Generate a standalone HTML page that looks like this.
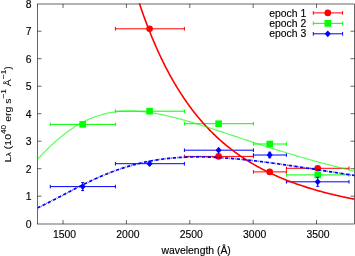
<!DOCTYPE html>
<html><head><meta charset="utf-8"><style>
html,body{margin:0;padding:0;background:#fff;width:355px;height:256px;overflow:hidden;}
svg{display:block;will-change:transform;filter:blur(0.45px);font-family:"Liberation Sans",sans-serif;}
</style></head><body><svg width="355" height="256" viewBox="0 0 355 256"><rect x="37.5" y="4.0" width="317.0" height="220.0" fill="none" stroke="#000" stroke-width="0.6"/><path d="M37.5,196.2 h4 M354.5,196.2 h-4 M37.5,168.7 h4 M354.5,168.7 h-4 M37.5,141.2 h4 M354.5,141.2 h-4 M37.5,113.69999999999999 h4 M354.5,113.69999999999999 h-4 M37.5,86.19999999999999 h4 M354.5,86.19999999999999 h-4 M37.5,58.69999999999999 h4 M354.5,58.69999999999999 h-4 M37.5,31.19999999999999 h4 M354.5,31.19999999999999 h-4 M63.04600000000001,224.0 v-4 M63.04600000000001,4.0 v4 M126.41100000000002,224.0 v-4 M126.41100000000002,4.0 v4 M189.776,224.0 v-4 M189.776,4.0 v4 M253.14100000000002,224.0 v-4 M253.14100000000002,4.0 v4 M316.50600000000003,224.0 v-4 M316.50600000000003,4.0 v4" stroke="#000" stroke-width="0.6" fill="none"/><g font-family="Liberation Sans" font-size="10" fill="#000" stroke="#000" stroke-width="0.14"><text x="30.38" y="227.80" text-anchor="end" transform="scale(1.04,1)">0</text><text x="30.38" y="200.30" text-anchor="end" transform="scale(1.04,1)">1</text><text x="30.38" y="172.80" text-anchor="end" transform="scale(1.04,1)">2</text><text x="30.38" y="145.30" text-anchor="end" transform="scale(1.04,1)">3</text><text x="30.38" y="117.80" text-anchor="end" transform="scale(1.04,1)">4</text><text x="30.38" y="90.30" text-anchor="end" transform="scale(1.04,1)">5</text><text x="30.38" y="62.80" text-anchor="end" transform="scale(1.04,1)">6</text><text x="30.38" y="35.30" text-anchor="end" transform="scale(1.04,1)">7</text><text x="30.38" y="7.80" text-anchor="end" transform="scale(1.04,1)">8</text><text x="62.06" y="238.10" text-anchor="middle" transform="scale(1.04,1)">1500</text><text x="122.99" y="238.10" text-anchor="middle" transform="scale(1.04,1)">2000</text><text x="183.92" y="238.10" text-anchor="middle" transform="scale(1.04,1)">2500</text><text x="244.85" y="238.10" text-anchor="middle" transform="scale(1.04,1)">3000</text><text x="305.78" y="238.10" text-anchor="middle" transform="scale(1.04,1)">3500</text><text x="188.65" y="253.60" text-anchor="middle" transform="scale(1.04,1)">wavelength (Å)</text></g><g font-family="Liberation Sans" font-size="10" fill="#000" stroke="#000" stroke-width="0.08"><text transform="translate(10.9,162.2) rotate(-90) scale(1.045,0.97)" text-anchor="start">L<tspan font-size="8.3" dy="0.4">λ</tspan><tspan dy="-0.4"> (10</tspan><tspan font-size="8" dy="-5.2">40</tspan><tspan dy="5.2"> erg s</tspan><tspan font-size="8" dy="-5.2">−1</tspan><tspan dy="5.2"> Å</tspan><tspan font-size="8" dy="-5.2">−1</tspan><tspan dy="5.2">)</tspan></text></g><path d="M115.4,28.8 H184.4 M115.4,27.0 V30.6 M184.4,27.0 V30.6" stroke="#ff0000" stroke-width="1" fill="none"/><circle cx="149.6" cy="28.8" r="3.3" fill="#ff0000"/><path d="M184.4,156.4 H253.4 M184.4,154.6 V158.20000000000002 M253.4,154.6 V158.20000000000002" stroke="#ff0000" stroke-width="1" fill="none"/><circle cx="218.6" cy="156.4" r="3.3" fill="#ff0000"/><path d="M253.4,171.9 H286.4 M253.4,170.1 V173.70000000000002 M286.4,170.1 V173.70000000000002" stroke="#ff0000" stroke-width="1" fill="none"/><circle cx="269.7" cy="171.9" r="3.3" fill="#ff0000"/><path d="M286.4,168.3 H349.0 M286.4,166.5 V170.10000000000002 M349.0,166.5 V170.10000000000002" stroke="#ff0000" stroke-width="1" fill="none"/><circle cx="317.7" cy="168.3" r="3.3" fill="#ff0000"/><path d="M50.3,124.4 H115.4 M50.3,122.60000000000001 V126.2 M115.4,122.60000000000001 V126.2" stroke="#00ff00" stroke-width="1" fill="none"/><rect x="79.4" y="121.10000000000001" width="6.6" height="6.6" fill="#00ff00"/><path d="M115.4,111.2 H184.4 M115.4,109.4 V113.0 M184.4,109.4 V113.0" stroke="#00ff00" stroke-width="1" fill="none"/><rect x="146.29999999999998" y="107.9" width="6.6" height="6.6" fill="#00ff00"/><path d="M184.4,123.7 H253.4 M184.4,121.9 V125.5 M253.4,121.9 V125.5" stroke="#00ff00" stroke-width="1" fill="none"/><rect x="215.29999999999998" y="120.4" width="6.6" height="6.6" fill="#00ff00"/><path d="M253.4,144.0 H286.4 M253.4,142.2 V145.8 M286.4,142.2 V145.8" stroke="#00ff00" stroke-width="1" fill="none"/><rect x="266.4" y="140.7" width="6.6" height="6.6" fill="#00ff00"/><path d="M286.4,174.9 H349.0 M286.4,173.1 V176.70000000000002 M349.0,173.1 V176.70000000000002" stroke="#00ff00" stroke-width="1" fill="none"/><rect x="314.4" y="171.6" width="6.6" height="6.6" fill="#00ff00"/><path d="M50.3,186.6 H115.4 M50.3,184.79999999999998 V188.4 M115.4,184.79999999999998 V188.4" stroke="#0000ff" stroke-width="1" fill="none"/><path d="M82.7,182.6 V190.6 M81.2,182.6 H84.2 M81.2,190.6 H84.2" stroke="#0000ff" stroke-width="1" fill="none"/><path d="M82.7,183.2 L85.76,186.6 L82.7,190.0 L79.64,186.6 Z" fill="#0000ff"/><path d="M115.4,163.7 H184.4 M115.4,161.89999999999998 V165.5 M184.4,161.89999999999998 V165.5" stroke="#0000ff" stroke-width="1" fill="none"/><path d="M149.6,160.29999999999998 L152.66,163.7 L149.6,167.1 L146.54,163.7 Z" fill="#0000ff"/><path d="M184.4,150.2 H253.4 M184.4,148.39999999999998 V152.0 M253.4,148.39999999999998 V152.0" stroke="#0000ff" stroke-width="1" fill="none"/><path d="M218.6,146.79999999999998 L221.66,150.2 L218.6,153.6 L215.54,150.2 Z" fill="#0000ff"/><path d="M253.4,155.0 H286.4 M253.4,153.2 V156.8 M286.4,153.2 V156.8" stroke="#0000ff" stroke-width="1" fill="none"/><path d="M269.7,152.2 V157.8 M268.2,152.2 H271.2 M268.2,157.8 H271.2" stroke="#0000ff" stroke-width="1" fill="none"/><path d="M269.7,151.6 L272.76,155.0 L269.7,158.4 L266.64,155.0 Z" fill="#0000ff"/><path d="M286.4,181.8 H349.0 M286.4,180.0 V183.60000000000002 M349.0,180.0 V183.60000000000002" stroke="#0000ff" stroke-width="1" fill="none"/><path d="M317.7,177.3 V186.3 M316.2,177.3 H319.2 M316.2,186.3 H319.2" stroke="#0000ff" stroke-width="1" fill="none"/><path d="M317.7,178.4 L320.76,181.8 L317.7,185.20000000000002 L314.64,181.8 Z" fill="#0000ff"/><path d="M139.34,3.25 L140.13,5.61 L140.93,7.93 L141.72,10.22 L142.51,12.49 L143.31,14.72 L144.10,16.92 L144.90,19.10 L145.69,21.24 L146.48,23.36 L147.28,25.45 L148.07,27.52 L148.87,29.55 L149.66,31.56 L150.45,33.55 L151.25,35.51 L152.04,37.44 L152.84,39.35 L153.63,41.24 L154.43,43.10 L155.22,44.94 L156.01,46.75 L156.81,48.54 L157.60,50.31 L158.40,52.06 L159.19,53.78 L159.98,55.49 L160.78,57.17 L161.57,58.83 L162.37,60.47 L163.16,62.09 L163.95,63.69 L164.75,65.28 L165.54,66.84 L166.34,68.38 L167.13,69.90 L167.92,71.41 L168.72,72.89 L169.51,74.36 L170.31,75.81 L171.10,77.25 L171.89,78.66 L172.69,80.06 L173.48,81.45 L174.28,82.81 L175.07,84.16 L175.86,85.49 L176.66,86.81 L177.45,88.11 L178.25,89.40 L179.04,90.67 L179.83,91.93 L180.63,93.17 L181.42,94.40 L182.22,95.61 L183.01,96.81 L183.80,97.99 L184.60,99.17 L185.39,100.32 L186.19,101.47 L186.98,102.60 L187.78,103.72 L188.57,104.82 L189.36,105.91 L190.16,106.99 L190.95,108.06 L191.75,109.12 L192.54,110.16 L193.33,111.19 L194.13,112.21 L194.92,113.22 L195.72,114.22 L196.51,115.20 L197.30,116.18 L198.10,117.14 L198.89,118.10 L199.69,119.04 L200.48,119.97 L201.27,120.89 L202.07,121.81 L202.86,122.71 L203.66,123.60 L204.45,124.48 L205.24,125.35 L206.04,126.22 L206.83,127.07 L207.63,127.91 L208.42,128.75 L209.21,129.57 L210.01,130.39 L210.80,131.20 L211.60,132.00 L212.39,132.79 L213.18,133.57 L213.98,134.35 L214.77,135.11 L215.57,135.87 L216.36,136.62 L217.15,137.36 L217.95,138.09 L218.74,138.82 L219.54,139.54 L220.33,140.25 L221.13,140.95 L221.92,141.65 L222.71,142.34 L223.51,143.02 L224.30,143.69 L225.10,144.36 L225.89,145.02 L226.68,145.67 L227.48,146.32 L228.27,146.96 L229.07,147.59 L229.86,148.22 L230.65,148.84 L231.45,149.46 L232.24,150.06 L233.04,150.67 L233.83,151.26 L234.62,151.85 L235.42,152.43 L236.21,153.01 L237.01,153.58 L237.80,154.15 L238.59,154.71 L239.39,155.26 L240.18,155.81 L240.98,156.36 L241.77,156.90 L242.56,157.43 L243.36,157.96 L244.15,158.48 L244.95,159.00 L245.74,159.51 L246.53,160.02 L247.33,160.52 L248.12,161.02 L248.92,161.51 L249.71,162.00 L250.50,162.48 L251.30,162.96 L252.09,163.43 L252.89,163.90 L253.68,164.36 L254.48,164.82 L255.27,165.28 L256.06,165.73 L256.86,166.18 L257.65,166.62 L258.45,167.06 L259.24,167.49 L260.03,167.92 L260.83,168.35 L261.62,168.77 L262.42,169.19 L263.21,169.60 L264.00,170.01 L264.80,170.41 L265.59,170.82 L266.39,171.22 L267.18,171.61 L267.97,172.00 L268.77,172.39 L269.56,172.77 L270.36,173.15 L271.15,173.53 L271.94,173.90 L272.74,174.27 L273.53,174.64 L274.33,175.00 L275.12,175.36 L275.91,175.72 L276.71,176.07 L277.50,176.42 L278.30,176.76 L279.09,177.11 L279.88,177.45 L280.68,177.79 L281.47,178.12 L282.27,178.45 L283.06,178.78 L283.85,179.10 L284.65,179.43 L285.44,179.74 L286.24,180.06 L287.03,180.37 L287.83,180.69 L288.62,180.99 L289.41,181.30 L290.21,181.60 L291.00,181.90 L291.80,182.20 L292.59,182.49 L293.38,182.78 L294.18,183.07 L294.97,183.36 L295.77,183.64 L296.56,183.93 L297.35,184.21 L298.15,184.48 L298.94,184.76 L299.74,185.03 L300.53,185.30 L301.32,185.57 L302.12,185.83 L302.91,186.09 L303.71,186.35 L304.50,186.61 L305.29,186.87 L306.09,187.12 L306.88,187.37 L307.68,187.62 L308.47,187.87 L309.26,188.12 L310.06,188.36 L310.85,188.60 L311.65,188.84 L312.44,189.08 L313.23,189.31 L314.03,189.54 L314.82,189.77 L315.62,190.00 L316.41,190.23 L317.20,190.46 L318.00,190.68 L318.79,190.90 L319.59,191.12 L320.38,191.34 L321.18,191.55 L321.97,191.77 L322.76,191.98 L323.56,192.19 L324.35,192.40 L325.15,192.61 L325.94,192.81 L326.73,193.02 L327.53,193.22 L328.32,193.42 L329.12,193.62 L329.91,193.81 L330.70,194.01 L331.50,194.20 L332.29,194.40 L333.09,194.59 L333.88,194.78 L334.67,194.96 L335.47,195.15 L336.26,195.34 L337.06,195.52 L337.85,195.70 L338.64,195.88 L339.44,196.06 L340.23,196.24 L341.03,196.41 L341.82,196.59 L342.61,196.76 L343.41,196.93 L344.20,197.10 L345.00,197.27 L345.79,197.44 L346.58,197.61 L347.38,197.77 L348.17,197.93 L348.97,198.10 L349.76,198.26 L350.55,198.42 L351.35,198.58 L352.14,198.73 L352.94,198.89 L353.73,199.05 L354.53,199.20" stroke="#ff0000" stroke-width="1.6" fill="none"/><path d="M37.70,159.08 L38.49,158.23 L39.29,157.39 L40.08,156.55 L40.88,155.72 L41.67,154.89 L42.46,154.07 L43.26,153.25 L44.05,152.44 L44.85,151.64 L45.64,150.84 L46.43,150.05 L47.23,149.26 L48.02,148.48 L48.82,147.71 L49.61,146.94 L50.40,146.18 L51.20,145.43 L51.99,144.69 L52.79,143.95 L53.58,143.22 L54.38,142.50 L55.17,141.79 L55.96,141.08 L56.76,140.38 L57.55,139.69 L58.35,139.01 L59.14,138.33 L59.93,137.67 L60.73,137.01 L61.52,136.36 L62.32,135.72 L63.11,135.08 L63.90,134.46 L64.70,133.84 L65.49,133.23 L66.29,132.63 L67.08,132.04 L67.87,131.46 L68.67,130.89 L69.46,130.32 L70.26,129.76 L71.05,129.22 L71.84,128.68 L72.64,128.15 L73.43,127.63 L74.23,127.11 L75.02,126.61 L75.81,126.11 L76.61,125.63 L77.40,125.15 L78.20,124.68 L78.99,124.22 L79.78,123.77 L80.58,123.33 L81.37,122.89 L82.17,122.47 L82.96,122.05 L83.75,121.64 L84.55,121.24 L85.34,120.85 L86.14,120.47 L86.93,120.09 L87.72,119.73 L88.52,119.37 L89.31,119.02 L90.11,118.68 L90.90,118.35 L91.70,118.02 L92.49,117.71 L93.28,117.40 L94.08,117.10 L94.87,116.81 L95.67,116.52 L96.46,116.25 L97.25,115.98 L98.05,115.72 L98.84,115.47 L99.64,115.22 L100.43,114.98 L101.22,114.75 L102.02,114.53 L102.81,114.32 L103.61,114.11 L104.40,113.91 L105.19,113.72 L105.99,113.53 L106.78,113.35 L107.58,113.18 L108.37,113.02 L109.16,112.86 L109.96,112.71 L110.75,112.57 L111.55,112.43 L112.34,112.30 L113.13,112.18 L113.93,112.06 L114.72,111.95 L115.52,111.85 L116.31,111.75 L117.10,111.66 L117.90,111.58 L118.69,111.50 L119.49,111.42 L120.28,111.36 L121.08,111.30 L121.87,111.24 L122.66,111.20 L123.46,111.15 L124.25,111.12 L125.05,111.08 L125.84,111.06 L126.63,111.04 L127.43,111.02 L128.22,111.01 L129.02,111.01 L129.81,111.01 L130.60,111.02 L131.40,111.03 L132.19,111.04 L132.99,111.07 L133.78,111.09 L134.57,111.12 L135.37,111.16 L136.16,111.20 L136.96,111.24 L137.75,111.29 L138.54,111.35 L139.34,111.41 L140.13,111.47 L140.93,111.54 L141.72,111.61 L142.51,111.69 L143.31,111.77 L144.10,111.85 L144.90,111.94 L145.69,112.03 L146.48,112.13 L147.28,112.23 L148.07,112.33 L148.87,112.44 L149.66,112.55 L150.45,112.66 L151.25,112.78 L152.04,112.90 L152.84,113.03 L153.63,113.16 L154.43,113.29 L155.22,113.43 L156.01,113.56 L156.81,113.71 L157.60,113.85 L158.40,114.00 L159.19,114.15 L159.98,114.30 L160.78,114.46 L161.57,114.62 L162.37,114.78 L163.16,114.95 L163.95,115.12 L164.75,115.29 L165.54,115.46 L166.34,115.63 L167.13,115.81 L167.92,115.99 L168.72,116.18 L169.51,116.36 L170.31,116.55 L171.10,116.74 L171.89,116.93 L172.69,117.13 L173.48,117.32 L174.28,117.52 L175.07,117.72 L175.86,117.93 L176.66,118.13 L177.45,118.34 L178.25,118.55 L179.04,118.76 L179.83,118.97 L180.63,119.18 L181.42,119.40 L182.22,119.62 L183.01,119.84 L183.80,120.06 L184.60,120.28 L185.39,120.50 L186.19,120.73 L186.98,120.95 L187.78,121.18 L188.57,121.41 L189.36,121.64 L190.16,121.88 L190.95,122.11 L191.75,122.34 L192.54,122.58 L193.33,122.82 L194.13,123.06 L194.92,123.30 L195.72,123.54 L196.51,123.78 L197.30,124.02 L198.10,124.27 L198.89,124.51 L199.69,124.76 L200.48,125.00 L201.27,125.25 L202.07,125.50 L202.86,125.75 L203.66,126.00 L204.45,126.25 L205.24,126.50 L206.04,126.75 L206.83,127.01 L207.63,127.26 L208.42,127.51 L209.21,127.77 L210.01,128.03 L210.80,128.28 L211.60,128.54 L212.39,128.80 L213.18,129.05 L213.98,129.31 L214.77,129.57 L215.57,129.83 L216.36,130.09 L217.15,130.35 L217.95,130.61 L218.74,130.87 L219.54,131.13 L220.33,131.39 L221.13,131.66 L221.92,131.92 L222.71,132.18 L223.51,132.44 L224.30,132.71 L225.10,132.97 L225.89,133.23 L226.68,133.50 L227.48,133.76 L228.27,134.02 L229.07,134.29 L229.86,134.55 L230.65,134.81 L231.45,135.08 L232.24,135.34 L233.04,135.61 L233.83,135.87 L234.62,136.14 L235.42,136.40 L236.21,136.66 L237.01,136.93 L237.80,137.19 L238.59,137.46 L239.39,137.72 L240.18,137.98 L240.98,138.25 L241.77,138.51 L242.56,138.77 L243.36,139.04 L244.15,139.30 L244.95,139.56 L245.74,139.83 L246.53,140.09 L247.33,140.35 L248.12,140.61 L248.92,140.87 L249.71,141.14 L250.50,141.40 L251.30,141.66 L252.09,141.92 L252.89,142.18 L253.68,142.44 L254.48,142.70 L255.27,142.96 L256.06,143.22 L256.86,143.48 L257.65,143.74 L258.45,144.00 L259.24,144.25 L260.03,144.51 L260.83,144.77 L261.62,145.03 L262.42,145.28 L263.21,145.54 L264.00,145.79 L264.80,146.05 L265.59,146.30 L266.39,146.56 L267.18,146.81 L267.97,147.07 L268.77,147.32 L269.56,147.57 L270.36,147.82 L271.15,148.08 L271.94,148.33 L272.74,148.58 L273.53,148.83 L274.33,149.08 L275.12,149.33 L275.91,149.58 L276.71,149.82 L277.50,150.07 L278.30,150.32 L279.09,150.57 L279.88,150.81 L280.68,151.06 L281.47,151.30 L282.27,151.55 L283.06,151.79 L283.85,152.04 L284.65,152.28 L285.44,152.52 L286.24,152.76 L287.03,153.00 L287.83,153.24 L288.62,153.48 L289.41,153.72 L290.21,153.96 L291.00,154.20 L291.80,154.44 L292.59,154.68 L293.38,154.91 L294.18,155.15 L294.97,155.38 L295.77,155.62 L296.56,155.85 L297.35,156.09 L298.15,156.32 L298.94,156.55 L299.74,156.78 L300.53,157.02 L301.32,157.25 L302.12,157.48 L302.91,157.71 L303.71,157.93 L304.50,158.16 L305.29,158.39 L306.09,158.62 L306.88,158.84 L307.68,159.07 L308.47,159.29 L309.26,159.52 L310.06,159.74 L310.85,159.96 L311.65,160.19 L312.44,160.41 L313.23,160.63 L314.03,160.85 L314.82,161.07 L315.62,161.29 L316.41,161.51 L317.20,161.72 L318.00,161.94 L318.79,162.16 L319.59,162.37 L320.38,162.59 L321.18,162.80 L321.97,163.02 L322.76,163.23 L323.56,163.44 L324.35,163.65 L325.15,163.86 L325.94,164.07 L326.73,164.28 L327.53,164.49 L328.32,164.70 L329.12,164.91 L329.91,165.12 L330.70,165.32 L331.50,165.53 L332.29,165.73 L333.09,165.94 L333.88,166.14 L334.67,166.35 L335.47,166.55 L336.26,166.75 L337.06,166.95 L337.85,167.15 L338.64,167.35 L339.44,167.55 L340.23,167.75 L341.03,167.95 L341.82,168.15 L342.61,168.34 L343.41,168.54 L344.20,168.73 L345.00,168.93 L345.79,169.12 L346.58,169.31 L347.38,169.51 L348.17,169.70 L348.97,169.89 L349.76,170.08 L350.55,170.27 L351.35,170.46 L352.14,170.65 L352.94,170.84 L353.73,171.03 L354.53,171.21" stroke="#00ff00" stroke-opacity="0.65" stroke-width="1.2" fill="none"/><path d="M37.70,207.78 L38.49,207.41 L39.29,207.04 L40.08,206.67 L40.88,206.29 L41.67,205.91 L42.46,205.53 L43.26,205.14 L44.05,204.75 L44.85,204.36 L45.64,203.97 L46.43,203.58 L47.23,203.18 L48.02,202.78 L48.82,202.38 L49.61,201.98 L50.40,201.58 L51.20,201.17 L51.99,200.77 L52.79,200.36 L53.58,199.95 L54.38,199.54 L55.17,199.13 L55.96,198.72 L56.76,198.30 L57.55,197.89 L58.35,197.48 L59.14,197.06 L59.93,196.64 L60.73,196.23 L61.52,195.81 L62.32,195.39 L63.11,194.98 L63.90,194.56 L64.70,194.14 L65.49,193.73 L66.29,193.31 L67.08,192.89 L67.87,192.48 L68.67,192.06 L69.46,191.65 L70.26,191.23 L71.05,190.82 L71.84,190.40 L72.64,189.99 L73.43,189.58 L74.23,189.17 L75.02,188.76 L75.81,188.35 L76.61,187.95 L77.40,187.54 L78.20,187.13 L78.99,186.73 L79.78,186.33 L80.58,185.93 L81.37,185.53 L82.17,185.13 L82.96,184.74 L83.75,184.35 L84.55,183.95 L85.34,183.56 L86.14,183.18 L86.93,182.79 L87.72,182.41 L88.52,182.02 L89.31,181.64 L90.11,181.27 L90.90,180.89 L91.70,180.52 L92.49,180.15 L93.28,179.78 L94.08,179.41 L94.87,179.05 L95.67,178.69 L96.46,178.33 L97.25,177.97 L98.05,177.62 L98.84,177.27 L99.64,176.92 L100.43,176.58 L101.22,176.23 L102.02,175.90 L102.81,175.56 L103.61,175.22 L104.40,174.89 L105.19,174.56 L105.99,174.24 L106.78,173.92 L107.58,173.60 L108.37,173.28 L109.16,172.97 L109.96,172.66 L110.75,172.35 L111.55,172.04 L112.34,171.74 L113.13,171.44 L113.93,171.15 L114.72,170.86 L115.52,170.57 L116.31,170.28 L117.10,170.00 L117.90,169.72 L118.69,169.44 L119.49,169.17 L120.28,168.90 L121.08,168.63 L121.87,168.37 L122.66,168.11 L123.46,167.85 L124.25,167.60 L125.05,167.35 L125.84,167.10 L126.63,166.85 L127.43,166.61 L128.22,166.38 L129.02,166.14 L129.81,165.91 L130.60,165.68 L131.40,165.46 L132.19,165.24 L132.99,165.02 L133.78,164.80 L134.57,164.59 L135.37,164.38 L136.16,164.17 L136.96,163.97 L137.75,163.77 L138.54,163.58 L139.34,163.38 L140.13,163.19 L140.93,163.01 L141.72,162.82 L142.51,162.64 L143.31,162.47 L144.10,162.29 L144.90,162.12 L145.69,161.95 L146.48,161.79 L147.28,161.63 L148.07,161.47 L148.87,161.31 L149.66,161.16 L150.45,161.01 L151.25,160.86 L152.04,160.72 L152.84,160.58 L153.63,160.44 L154.43,160.31 L155.22,160.18 L156.01,160.05 L156.81,159.92 L157.60,159.80 L158.40,159.68 L159.19,159.56 L159.98,159.45 L160.78,159.34 L161.57,159.23 L162.37,159.12 L163.16,159.02 L163.95,158.92 L164.75,158.82 L165.54,158.73 L166.34,158.63 L167.13,158.54 L167.92,158.46 L168.72,158.37 L169.51,158.29 L170.31,158.21 L171.10,158.14 L171.89,158.06 L172.69,157.99 L173.48,157.92 L174.28,157.86 L175.07,157.79 L175.86,157.73 L176.66,157.67 L177.45,157.62 L178.25,157.56 L179.04,157.51 L179.83,157.46 L180.63,157.42 L181.42,157.37 L182.22,157.33 L183.01,157.29 L183.80,157.25 L184.60,157.22 L185.39,157.18 L186.19,157.15 L186.98,157.12 L187.78,157.10 L188.57,157.07 L189.36,157.05 L190.16,157.03 L190.95,157.01 L191.75,157.00 L192.54,156.99 L193.33,156.97 L194.13,156.96 L194.92,156.96 L195.72,156.95 L196.51,156.95 L197.30,156.95 L198.10,156.95 L198.89,156.95 L199.69,156.95 L200.48,156.96 L201.27,156.97 L202.07,156.98 L202.86,156.99 L203.66,157.00 L204.45,157.02 L205.24,157.03 L206.04,157.05 L206.83,157.07 L207.63,157.10 L208.42,157.12 L209.21,157.14 L210.01,157.17 L210.80,157.20 L211.60,157.23 L212.39,157.26 L213.18,157.30 L213.98,157.33 L214.77,157.37 L215.57,157.41 L216.36,157.45 L217.15,157.49 L217.95,157.53 L218.74,157.57 L219.54,157.62 L220.33,157.67 L221.13,157.71 L221.92,157.76 L222.71,157.81 L223.51,157.87 L224.30,157.92 L225.10,157.98 L225.89,158.03 L226.68,158.09 L227.48,158.15 L228.27,158.21 L229.07,158.27 L229.86,158.33 L230.65,158.40 L231.45,158.46 L232.24,158.53 L233.04,158.59 L233.83,158.66 L234.62,158.73 L235.42,158.80 L236.21,158.88 L237.01,158.95 L237.80,159.02 L238.59,159.10 L239.39,159.17 L240.18,159.25 L240.98,159.33 L241.77,159.41 L242.56,159.49 L243.36,159.57 L244.15,159.65 L244.95,159.73 L245.74,159.82 L246.53,159.90 L247.33,159.99 L248.12,160.07 L248.92,160.16 L249.71,160.25 L250.50,160.34 L251.30,160.43 L252.09,160.52 L252.89,160.61 L253.68,160.70 L254.48,160.79 L255.27,160.89 L256.06,160.98 L256.86,161.08 L257.65,161.17 L258.45,161.27 L259.24,161.37 L260.03,161.47 L260.83,161.56 L261.62,161.66 L262.42,161.76 L263.21,161.86 L264.00,161.97 L264.80,162.07 L265.59,162.17 L266.39,162.27 L267.18,162.38 L267.97,162.48 L268.77,162.59 L269.56,162.69 L270.36,162.80 L271.15,162.90 L271.94,163.01 L272.74,163.12 L273.53,163.23 L274.33,163.34 L275.12,163.44 L275.91,163.55 L276.71,163.66 L277.50,163.77 L278.30,163.89 L279.09,164.00 L279.88,164.11 L280.68,164.22 L281.47,164.33 L282.27,164.45 L283.06,164.56 L283.85,164.67 L284.65,164.79 L285.44,164.90 L286.24,165.02 L287.03,165.13 L287.83,165.25 L288.62,165.36 L289.41,165.48 L290.21,165.60 L291.00,165.71 L291.80,165.83 L292.59,165.95 L293.38,166.06 L294.18,166.18 L294.97,166.30 L295.77,166.42 L296.56,166.54 L297.35,166.66 L298.15,166.78 L298.94,166.90 L299.74,167.01 L300.53,167.13 L301.32,167.25 L302.12,167.37 L302.91,167.50 L303.71,167.62 L304.50,167.74 L305.29,167.86 L306.09,167.98 L306.88,168.10 L307.68,168.22 L308.47,168.34 L309.26,168.47 L310.06,168.59 L310.85,168.71 L311.65,168.83 L312.44,168.95 L313.23,169.08 L314.03,169.20 L314.82,169.32 L315.62,169.44 L316.41,169.57 L317.20,169.69 L318.00,169.81 L318.79,169.94 L319.59,170.06 L320.38,170.18 L321.18,170.30 L321.97,170.43 L322.76,170.55 L323.56,170.67 L324.35,170.80 L325.15,170.92 L325.94,171.05 L326.73,171.17 L327.53,171.29 L328.32,171.42 L329.12,171.54 L329.91,171.66 L330.70,171.79 L331.50,171.91 L332.29,172.03 L333.09,172.16 L333.88,172.28 L334.67,172.40 L335.47,172.53 L336.26,172.65 L337.06,172.77 L337.85,172.90 L338.64,173.02 L339.44,173.14 L340.23,173.27 L341.03,173.39 L341.82,173.51 L342.61,173.64 L343.41,173.76 L344.20,173.88 L345.00,174.01 L345.79,174.13 L346.58,174.25 L347.38,174.37 L348.17,174.50 L348.97,174.62 L349.76,174.74 L350.55,174.86 L351.35,174.99 L352.14,175.11 L352.94,175.23 L353.73,175.35 L354.53,175.47" stroke="#0000ff" stroke-width="1.7" stroke-dasharray="3.4 0.96 0.5 0.96" stroke-dashoffset="0.48" fill="none"/><path d="M313.3,12.9 H342.6 M313.3,11.1 V14.700000000000001 M342.6,11.1 V14.700000000000001" stroke="#ff0000" stroke-width="1" fill="none"/><circle cx="327.8" cy="12.9" r="3.3" fill="#ff0000"/><path d="M313.3,23.35 H342.6 M313.3,21.55 V25.150000000000002 M342.6,21.55 V25.150000000000002" stroke="#00ff00" stroke-width="1" fill="none"/><rect x="324.5" y="20.05" width="6.6" height="6.6" fill="#00ff00"/><path d="M313.3,33.8 H342.6 M313.3,31.999999999999996 V35.599999999999994 M342.6,31.999999999999996 V35.599999999999994" stroke="#0000ff" stroke-width="1" fill="none"/><path d="M327.8,30.4 L330.86,33.8 L327.8,37.199999999999996 L324.74,33.8 Z" fill="#0000ff"/><g font-family="Liberation Sans" font-size="10" fill="#000" stroke="#000" stroke-width="0.14"><text x="294.42" y="16.60" text-anchor="end" transform="scale(1.04,1)">epoch 1</text><text x="294.42" y="27.05" text-anchor="end" transform="scale(1.04,1)">epoch 2</text><text x="294.42" y="37.50" text-anchor="end" transform="scale(1.04,1)">epoch 3</text></g></svg></body></html>
